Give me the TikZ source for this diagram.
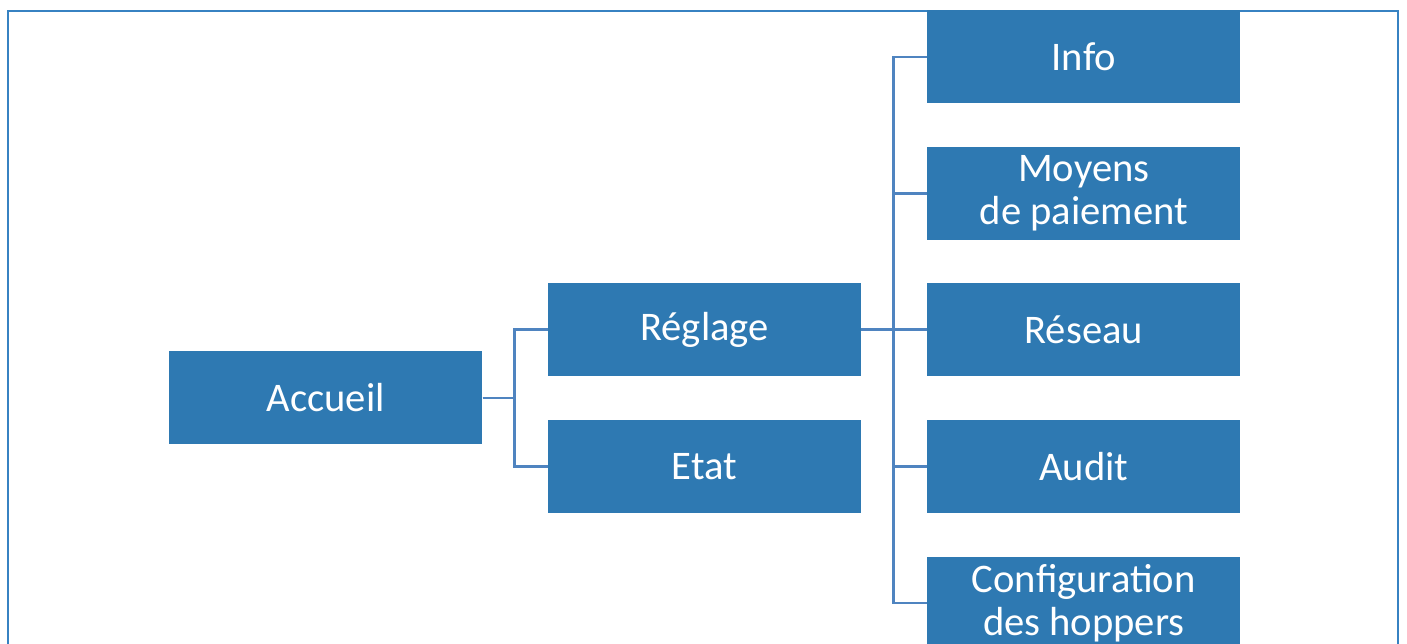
\documentclass[tikz,border=0pt]{standalone}
\usepackage{fontspec}
\setmainfont{Carlito}
\usepackage{tikz}
\usetikzlibrary{positioning,calc}
\definecolor{boxblue}{RGB}{46,121,178}
\definecolor{linkblue}{RGB}{79,132,192}
\definecolor{frameblue}{RGB}{55,130,194}

\begin{document}
\begin{tikzpicture}[x=0.5pt, y=-0.5pt,
  box/.style={fill=boxblue, text=white, minimum width=156.5pt, minimum height=46.5pt,
    inner sep=0pt, align=center, font=\fontsize{20.3pt}{21.5pt}\selectfont},
  link/.style={draw=linkblue, line width=1.3pt}]

  \clip (0,0) rectangle (1407,643);
  \draw [frameblue, line width=1.3pt] (8,11) rectangle (1398,700);

  \node (reglage) [box] at (704.5,329.5) {Réglage};
  \node (etat) [box, below=21.5pt of reglage] {Etat};
  \coordinate (mid) at ($(reglage.west)!0.5!(etat.west)$);
  \node (accueil) [box, left=32.5pt of mid] {Accueil};

  \node (reseau) [box, right=32.75pt of reglage] {Réseau};
  \node (moyens) [box, above=21.25pt of reseau] {Moyens\\de paiement};
  \node (info) [box, above=21.25pt of moyens] {Info};
  \node (audit) [box, below=21.5pt of reseau] {Audit};
  \node (config) [box, below=21.5pt of audit] {Configuration\\des hoppers};

  \path [link] (accueil.east) -- ++(32,0) |- (reglage.west);
  \path [link] (accueil.east) -- ++(32,0) |- (etat.west);
  \path [link] (reglage.east) -- ++(32,0) |- (info.west);
  \path [link] (reglage.east) -- ++(32,0) |- (moyens.west);
  \path [link] (reglage.east) -- ++(32,0) |- (reseau.west);
  \path [link] (reglage.east) -- ++(32,0) |- (audit.west);
  \path [link] (reglage.east) -- ++(32,0) |- (config.west);
\end{tikzpicture}
\end{document}
